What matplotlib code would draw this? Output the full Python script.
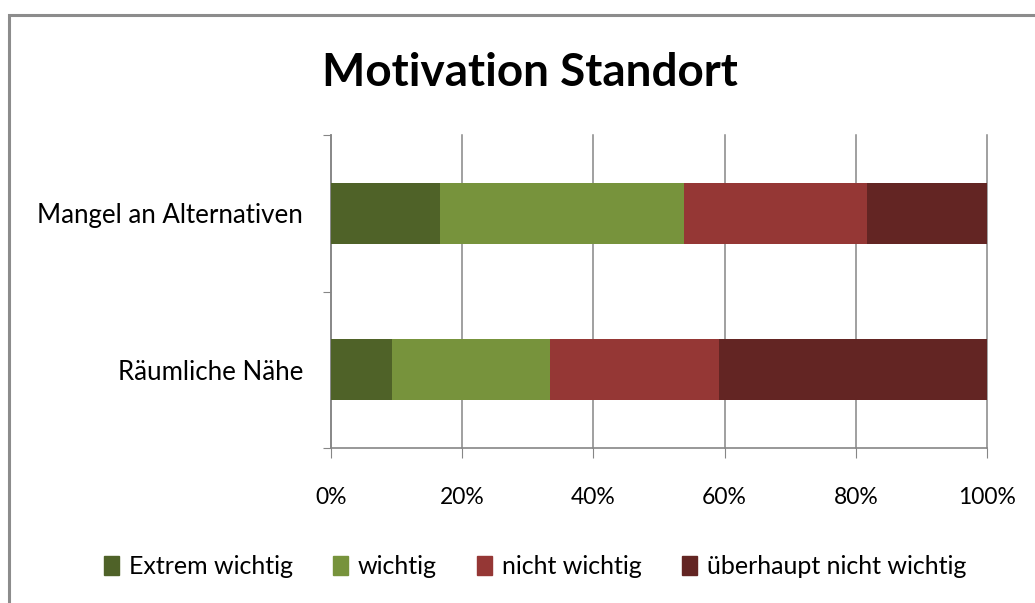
import matplotlib.pyplot as plt
from matplotlib.patches import Rectangle, Patch

# values, in percent
categories = ['Räumliche Nähe', 'Mangel an Alternativen']
series_names = ['Extrem wichtig', 'wichtig', 'nicht wichtig', 'überhaupt nicht wichtig']
extrem = [9.3, 16.6]
wichtig = [24.1, 37.2]
nicht = [25.7, 27.9]
ueberhaupt = [40.9, 18.3]
colors = ['#4F6228', '#77933C', '#953735', '#632523']
xticks = [0, 20, 40, 60, 80, 100]
xtick_labels = ['0%', '20%', '40%', '60%', '80%', '100%']

plt.rcParams['font.family'] = ['Lato', 'DejaVu Sans']
GRID = '#868686'

fig = plt.figure(figsize=(10.35, 6.03), dpi=100)
W, H = 1035, 603

# outer chart frame (cut at the right and bottom edge)
fig.patches.append(Rectangle((9 / W, -0.05), 1.1, 1 - 15 / H + 0.05,
                             transform=fig.transFigure, fill=False,
                             edgecolor='#8C8C8C', linewidth=2.2))

ax = fig.add_axes([331 / W, 1 - 448 / H, 656 / W, 313 / H])

left = [0, 0]
for vals, name, c in zip([extrem, wichtig, nicht, ueberhaupt], series_names, colors):
    ax.barh(range(len(categories)), vals, left=left, height=0.39, color=c, label=name, zorder=3)
    left = [a + b for a, b in zip(left, vals)]

ax.set_xlim(0, 100)
ax.set_ylim(-0.5, 1.5)
ax.set_xticks(xticks)
ax.set_xticklabels(xtick_labels, fontsize=16.5)
ax.grid(axis='x', color=GRID, linewidth=1.1, zorder=0)
for line in ax.get_xgridlines():
    line.set_clip_on(False)

ax.set_yticks([-0.5, 0.5, 1.5])
ax.set_yticklabels([])
ax.set_yticks([0, 1], minor=True)
ax.set_yticklabels(categories, minor=True, fontsize=18.6)

for side in ['top', 'right']:
    ax.spines[side].set_visible(False)
for side in ['left', 'bottom']:
    ax.spines[side].set_color(GRID)
    ax.spines[side].set_linewidth(1.2)

ax.tick_params(axis='x', which='major', length=7, color=GRID, pad=21)
ax.tick_params(axis='y', which='major', length=6, color=GRID)
ax.tick_params(axis='y', which='minor', length=0, pad=20)

fig.text(530 / W, 1 - 73 / H, 'Motivation Standort', ha='center', va='center',
         fontsize=33, fontweight='bold')

handles = [Patch(color=c, label=n) for c, n in zip(colors, series_names)]
fig.legend(handles=handles, loc='center', bbox_to_anchor=(535 / W, 1 - 567 / H),
           ncol=4, frameon=False, fontsize=18, handlelength=0.6, handleheight=0.8,
           handletextpad=0.4, columnspacing=1.6)

fig.savefig('out.png', dpi=100)
